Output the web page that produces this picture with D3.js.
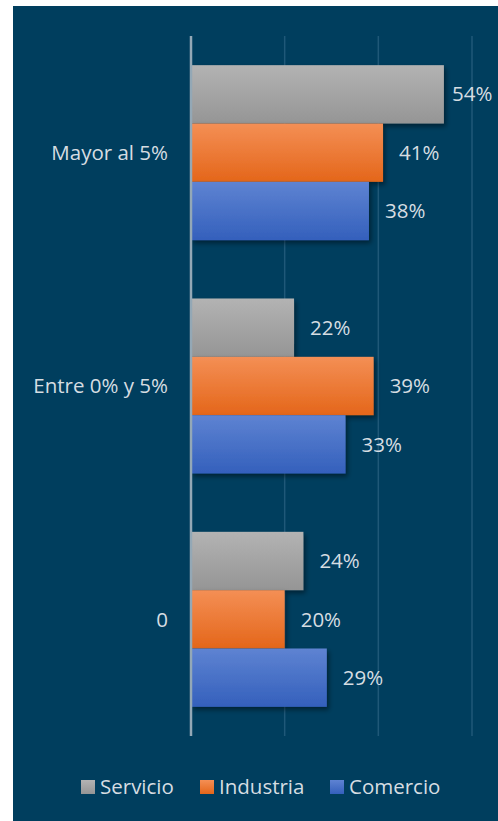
<!DOCTYPE html>
<html><head><meta charset="utf-8">
<script src="https://cdn.jsdelivr.net/npm/d3@7"></script>
<style>html,body{margin:0;padding:0;background:#fff;}svg{display:block;}</style>
</head><body>
<svg id="c" width="498" height="821"></svg>
<script>
const categories = ["Mayor al 5%", "Entre 0% y 5%", "0"];
const seriesNames = ["Servicio", "Industria", "Comercio"];
const servicio = [54, 22, 24];
const industria = [41, 39, 20];
const comercio = [38, 33, 29];
const xTicks = [0, 20, 40, 60];

const seriesValues = [servicio, industria, comercio];
const gradStops = [["#b3b3b3", "#959595"], ["#f48f55", "#e4661a"], ["#5e83d2", "#3460bc"]];
const textColor = "#d6dde2";
const font = "'Open Sans', sans-serif";
const fs = 20.5;

const svg = d3.select("#c");
const defs = svg.append("defs");
gradStops.forEach((g, i) => {
  const lg = defs.append("linearGradient").attr("id", "g" + i).attr("x1", 0).attr("y1", 0).attr("x2", 0).attr("y2", 1);
  lg.append("stop").attr("offset", "0%").attr("stop-color", g[0]);
  lg.append("stop").attr("offset", "100%").attr("stop-color", g[1]);
});
const f = defs.append("filter").attr("id", "sh").attr("x", "-10%").attr("y", "-10%").attr("width", "130%").attr("height", "140%");
f.append("feDropShadow").attr("dx", 2).attr("dy", 3).attr("stdDeviation", 2.5).attr("flood-color", "#000").attr("flood-opacity", 0.45);

svg.append("rect").attr("x", 13).attr("y", 6).attr("width", 485).attr("height", 815).attr("fill", "#003e5e");

const x = d3.scaleLinear().domain([0, 60]).range([191, 472]);
const y = d3.scaleBand().domain(categories).range([36, 736]).paddingInner(0.25).paddingOuter(0.125);
const yi = d3.scaleBand().domain(seriesNames).range([0, y.bandwidth()]);

// gridlines
svg.append("g").selectAll("line").data(xTicks.slice(1)).join("line")
  .attr("x1", d => x(d)).attr("x2", d => x(d)).attr("y1", 36).attr("y2", 736)
  .attr("stroke", "#1f5878").attr("stroke-width", 1.5);

// bars
const groups = svg.append("g").selectAll("g").data(categories).join("g")
  .attr("transform", c => `translate(0,${y(c)})`);
seriesNames.forEach((s, si) => {
  groups.append("rect")
    .attr("x", x(0))
    .attr("y", yi(s))
    .attr("width", (c, ci) => x(seriesValues[si][ci]) - x(0))
    .attr("height", yi.bandwidth())
    .attr("fill", `url(#g${si})`)
    .attr("filter", "url(#sh)");
  groups.append("text")
    .attr("x", (c, ci) => Math.min(x(seriesValues[si][ci]) + 16, 452))
    .attr("y", yi(s) + yi.bandwidth() / 2)
    .attr("dy", "0.35em")
    .attr("fill", textColor).attr("font-family", font).attr("font-size", fs)
    .text((c, ci) => seriesValues[si][ci] + "%");
});

// axis line
svg.append("line").attr("x1", 191).attr("x2", 191).attr("y1", 36).attr("y2", 736)
  .attr("stroke", "#93a8b6").attr("stroke-width", 2.5);

// category labels
svg.append("g").selectAll("text").data(categories).join("text")
  .attr("x", 168).attr("y", c => y(c) + y.bandwidth() / 2).attr("dy", "0.35em")
  .attr("text-anchor", "end").attr("fill", textColor).attr("font-family", font).attr("font-size", fs)
  .text(c => c);

// legend
const legX = [81, 200, 330];
const leg = svg.append("g").selectAll("g").data(seriesNames).join("g")
  .attr("transform", (d, i) => `translate(${legX[i]},780)`);
leg.append("rect").attr("width", 14).attr("height", 14).attr("fill", (d, i) => `url(#g${i})`);
leg.append("text").attr("x", 19).attr("y", 7).attr("dy", "0.35em")
  .attr("fill", textColor).attr("font-family", font).attr("font-size", fs).text(d => d);
</script>
</body></html>
